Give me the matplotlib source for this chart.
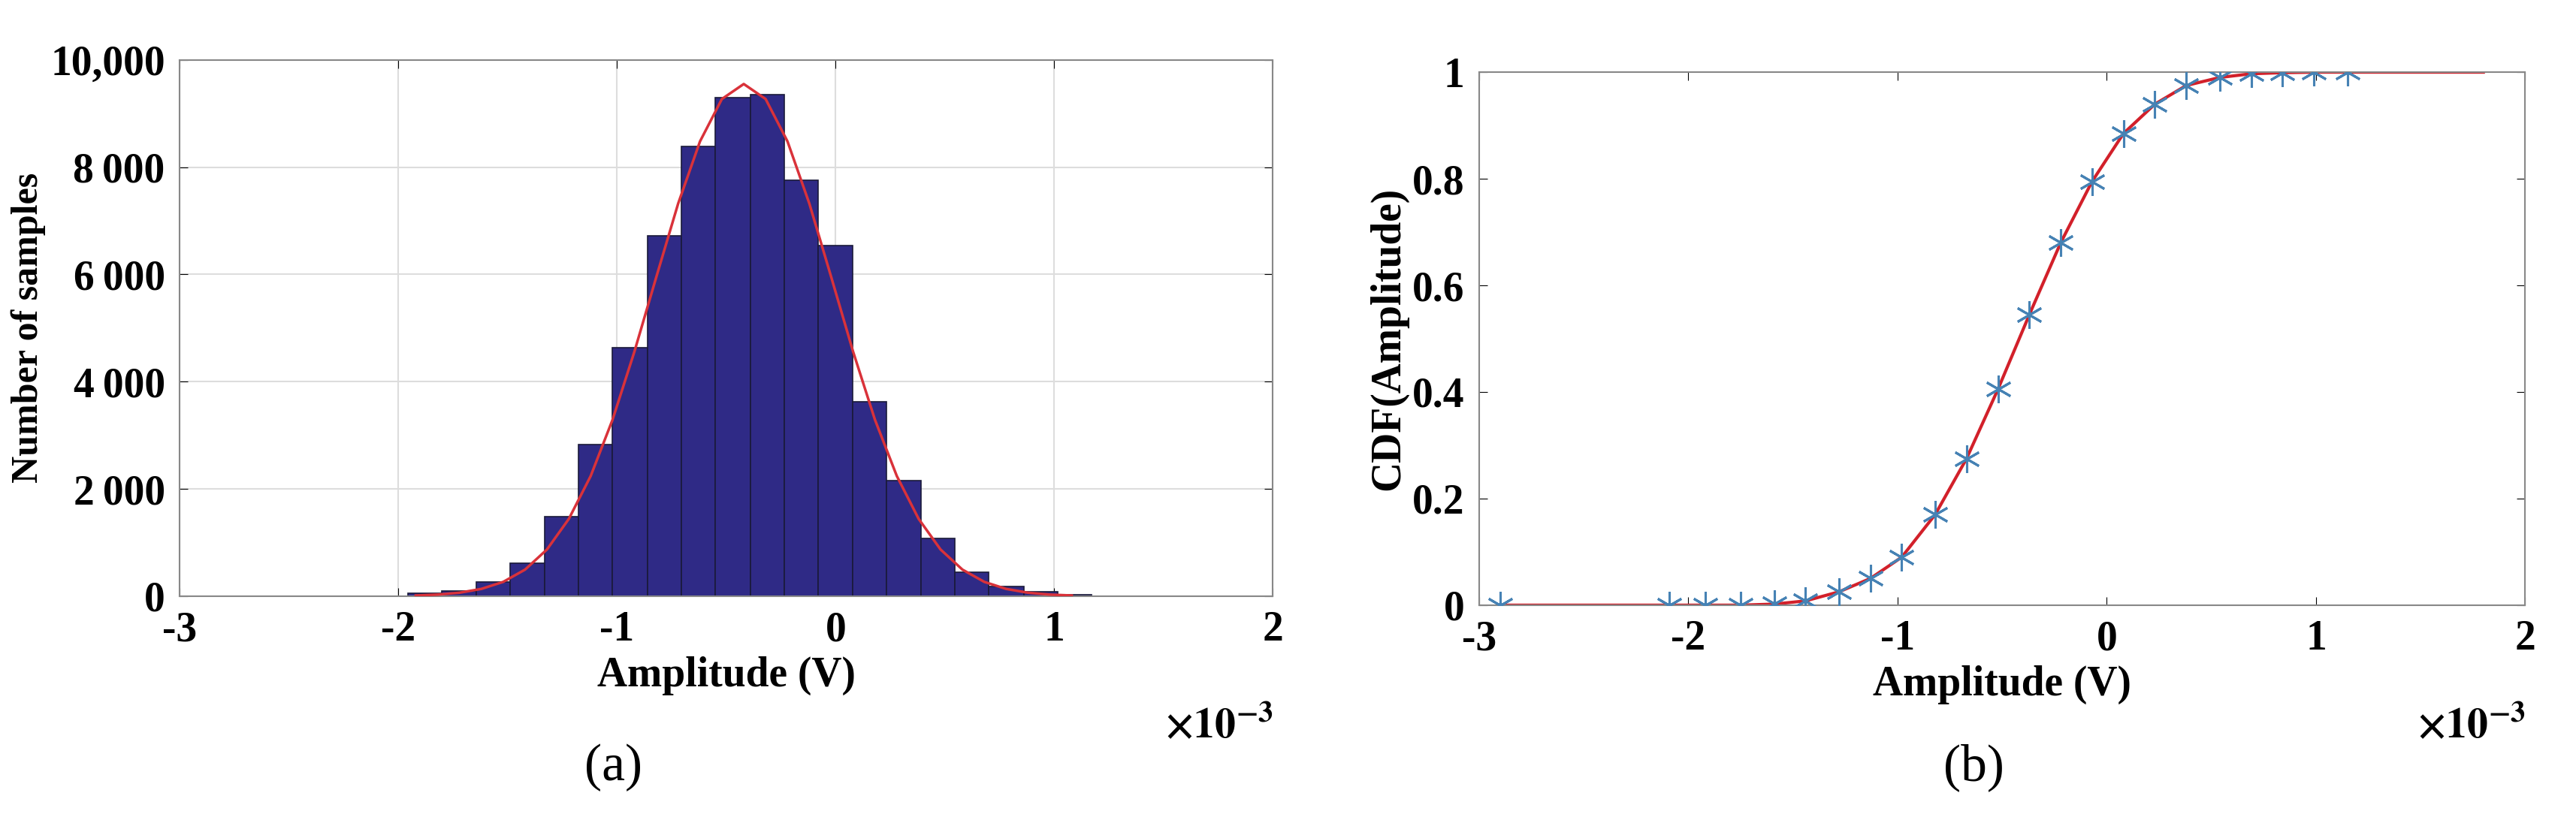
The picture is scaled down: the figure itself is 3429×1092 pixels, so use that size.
import matplotlib
matplotlib.use("Agg")
import matplotlib.pyplot as plt

plt.rcParams['font.family'] = ['Liberation Serif', 'DejaVu Serif']
plt.rcParams['font.weight'] = 'bold'
plt.rcParams['mathtext.fontset'] = 'stix'

# histogram (units of 1e-3 V)
bin_edges = [-1.957, -1.80, -1.644, -1.487, -1.33, -1.175, -1.02, -0.86, -0.705, -0.55,
             -0.39, -0.235, -0.08, 0.077, 0.234, 0.39, 0.547, 0.70, 0.86, 1.016, 1.17]
counts = [50, 100, 270, 615, 1480, 2820, 4630, 6720, 8380, 9300,
          9350, 7750, 6540, 3630, 2160, 1075, 440, 175, 80, 25]

fit_x = [-1.92, -1.82, -1.72, -1.62, -1.52, -1.42, -1.32, -1.22, -1.12, -1.02, -0.92,
         -0.82, -0.72, -0.62, -0.52, -0.42, -0.32, -0.22, -0.12, -0.02, 0.08, 0.18,
         0.28, 0.38, 0.48, 0.58, 0.68, 0.78, 0.88, 0.98, 1.08]
fit_y = [12, 29, 64, 135, 266, 495, 870, 1440, 2240, 3290, 4560, 5950, 7320, 8480, 9270,
         9550, 9270, 8480, 7320, 5950, 4560, 3290, 2240, 1440, 870, 495, 266, 135, 64, 29, 12]

# CDF
cdf_x = [-2.9, -2.09, -1.92, -1.75, -1.59, -1.44, -1.28, -1.13, -0.98, -0.82, -0.67, -0.52,
         -0.37, -0.22, -0.07, 0.08, 0.23, 0.38, 0.54, 0.69, 0.84, 0.99, 1.15]
cdf_y = [0, 0, 0, 0, 0.002, 0.008, 0.025, 0.05, 0.09, 0.17, 0.275, 0.405,
         0.545, 0.68, 0.795, 0.885, 0.94, 0.975, 0.99, 0.997, 0.999, 1, 1]
curve_x = cdf_x + [1.4, 1.8]
curve_y = cdf_y + [1, 1]

fig = plt.figure(figsize=(34.3, 10.92), dpi=100)
ax1 = fig.add_axes([0.0697, 0.273, 0.4243, 0.654])
ax2 = fig.add_axes([0.574, 0.262, 0.406, 0.650])

widths = [bin_edges[i + 1] - bin_edges[i] for i in range(len(counts))]
ax1.bar(bin_edges[:-1], counts, width=widths, align='edge', color='#2f2a86',
        edgecolor='#1a1a3a', linewidth=1.2, zorder=2)
ax1.plot(fit_x, fit_y, color='#d9323a', lw=2.5, zorder=3)
ax1.set_xlim(-3, 2)
ax1.set_ylim(0, 10000)
ax1.set_yticks([0, 2000, 4000, 6000, 8000, 10000])
ax1.set_yticklabels(['0', '2\u2009000', '4\u2009000', '6\u2009000', '8\u2009000', '10,000'])
ax1.grid(True, color='#dddddd', lw=1.5, zorder=0)
ax1.set_xlabel('Amplitude (V)', fontsize=40, fontweight='bold', labelpad=6)
ax1.set_ylabel('Number of samples', fontsize=36, fontweight='bold', labelpad=4)
ax1.text(1.0, -0.205, r'$\times10^{-3}$', transform=ax1.transAxes, ha='right', va='top',
         fontsize=40)
fig.text(0.238, 0.035, '(a)', ha='center', va='bottom', fontsize=50, fontweight='normal')

ax2.plot(curve_x, curve_y, color='#d2202a', lw=3, zorder=2)
ax2.plot(cdf_x, cdf_y, ls='none', marker=(6, 2, 0), ms=26, mew=2.2, color='#4682b4', zorder=3)
ax2.set_xlim(-3, 2)
ax2.set_ylim(0, 1)
ax2.set_yticks([0, 0.2, 0.4, 0.6, 0.8, 1])
ax2.set_yticklabels(['0', '0.2', '0.4', '0.6', '0.8', '1'])
ax2.set_xlabel('Amplitude (V)', fontsize=40, fontweight='bold', labelpad=6)
ax2.set_ylabel('CDF(Amplitude)', fontsize=40, fontweight='bold', labelpad=4)
ax2.text(1.0, -0.19, r'$\times10^{-3}$', transform=ax2.transAxes, ha='right', va='top',
         fontsize=40)
fig.text(0.766, 0.035, '(b)', ha='center', va='bottom', fontsize=50, fontweight='normal')

for ax in (ax1, ax2):
    ax.tick_params(labelsize=40, direction='in', length=8, top=True, right=True, pad=14)
    for s in ax.spines.values():
        s.set_color('#888888')
        s.set_linewidth(1.5)
    ax.set_xticks([-3, -2, -1, 0, 1, 2])
    ax.set_xticklabels(['-3', '-2', '-1', '0', '1', '2'])

fig.savefig('out.png', dpi=100, facecolor='white')
